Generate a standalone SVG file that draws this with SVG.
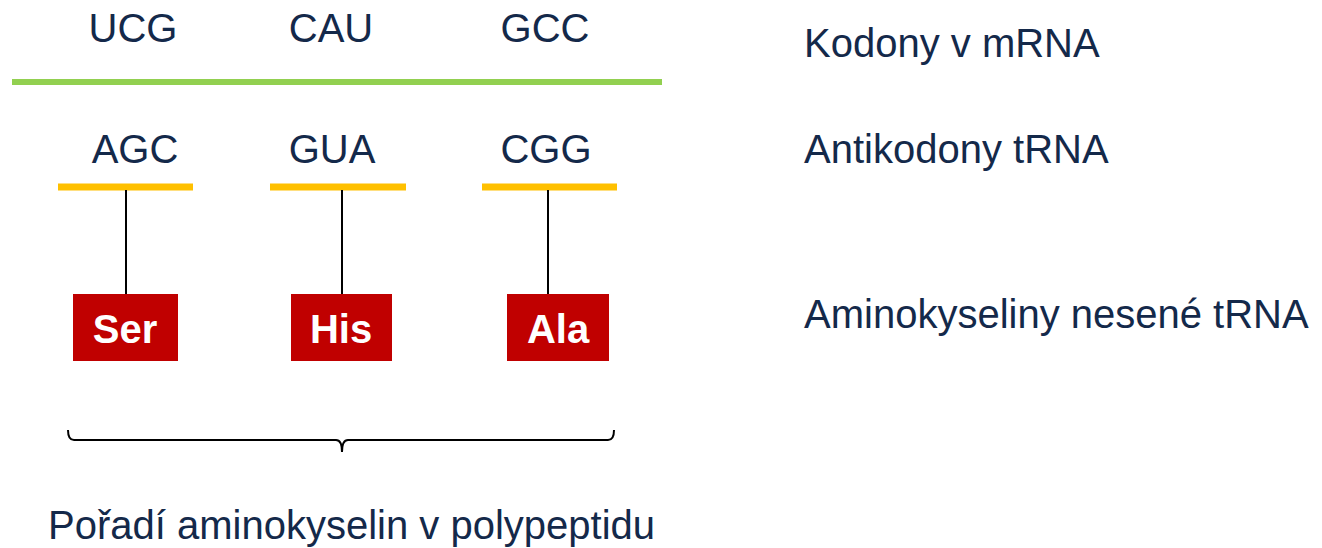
<svg xmlns="http://www.w3.org/2000/svg" width="1322" height="548" viewBox="0 0 1322 548">
<style>
.t{font-family:"Liberation Sans",Arial,sans-serif;font-size:40px;fill:#14294a}
.c{text-anchor:middle}
.aa{font-family:"Liberation Sans",Arial,sans-serif;font-size:40px;font-weight:bold;fill:#ffffff;text-anchor:middle}
.box{fill:#c00000}
.bar{stroke:#ffc000;stroke-width:7}
.link{stroke:#000;stroke-width:2;fill:none}
</style>
<rect width="1322" height="548" fill="#fff"/>
<g id="codons">
<text class="t c" x="133" y="42">UCG</text>
<text class="t c" x="331" y="42">CAU</text>
<text class="t c" x="545" y="42">GCC</text>
</g>
<g id="mrna"><line x1="12" y1="82" x2="662" y2="82" stroke="#92d050" stroke-width="6"/></g>
<g id="anticodons">
<text class="t c" x="135" y="163">AGC</text>
<text class="t c" x="332" y="163">GUA</text>
<text class="t c" x="546" y="163">CGG</text>
</g>
<g id="trna1"><line class="bar" x1="58" y1="187" x2="193" y2="187"/></g>
<g id="trna2"><line class="bar" x1="270" y1="187" x2="406" y2="187"/></g>
<g id="trna3"><line class="bar" x1="482" y1="187" x2="617" y2="187"/></g>
<g id="connectors">
<line class="link" x1="126" y1="190" x2="126" y2="294"/>
<line class="link" x1="342" y1="190" x2="342" y2="294"/>
<line class="link" x1="548" y1="190" x2="548" y2="294"/>
<path class="link" stroke-width="1.5" d="M68,430 Q68,440 74,440 L336,440 Q342,440 342,452 Q342,440 348,440 L608,440 Q614,440 614,430"/>
</g>
<g id="ser"><rect class="box" x="73" y="294" width="105" height="67"/><text class="aa" x="125" y="343">Ser</text></g>
<g id="his"><rect class="box" x="291" y="294" width="101" height="67"/><text class="aa" x="341" y="343">His</text></g>
<g id="ala"><rect class="box" x="507" y="294" width="102" height="67"/><text class="aa" x="558" y="343">Ala</text></g>
<g id="labels">
<text class="t" x="804" y="57">Kodony v mRNA</text>
<text class="t" x="804" y="163">Antikodony tRNA</text>
<text class="t" x="804" y="328">Aminokyseliny nesené tRNA</text>
</g>
<g id="bottom"><text class="t" x="48" y="539">Pořadí aminokyselin v polypeptidu</text></g>
</svg>
